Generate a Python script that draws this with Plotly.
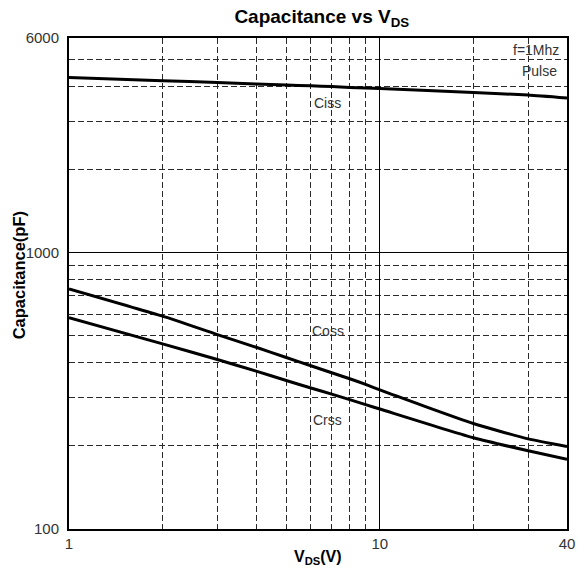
import plotly.graph_objects as go

# Data
vds = [1, 2, 3, 4, 5, 6, 7, 8, 9, 10, 20, 30, 40]
ciss = [4320, 4200, 4140, 4090, 4055, 4027, 4000, 3975, 3955, 3940, 3808, 3727, 3635]
coss = [741, 590, 506, 455, 418, 390, 368, 350, 334, 319, 241, 212, 199]
crss = [583, 468, 411, 373, 345, 324, 308, 294, 282, 272, 214, 192, 179]

x_ticks = [1, 10, 40]
x_tick_text = ["1", "10", "40"]
y_ticks = [100, 1000, 6000]
y_tick_text = ["100", "1000", "6000"]
x_minor = [2, 3, 4, 5, 6, 7, 8, 9, 20, 30]
y_minor = [200, 300, 400, 500, 600, 700, 800, 900, 2000, 3000, 4000, 5000]

font_main = "Liberation Sans, Arial, sans-serif"

fig = go.Figure()
for name, vals in [("Ciss", ciss), ("Coss", coss), ("Crss", crss)]:
    fig.add_trace(go.Scatter(x=vds, y=vals, mode="lines", name=name,
                             line=dict(color="black", width=3, shape="spline", smoothing=0.5),
                             showlegend=False))

grid_minor = dict(showgrid=True, gridcolor="#2a2a2a", gridwidth=1, griddash="6px,3px",
                  ticks="")

fig.update_xaxes(type="log", range=[0, 1.60206], tickmode="array",
                 tickvals=x_ticks, ticktext=x_tick_text,
                 showgrid=True, gridcolor="black", gridwidth=1,
                 showline=True, linecolor="black", linewidth=2, mirror=True,
                 ticks="", zeroline=False,
                 tickfont=dict(family=font_main, size=15, color="#333"),
                 minor=dict(tickmode="array", tickvals=x_minor, **grid_minor))
fig.update_yaxes(type="log", range=[2, 3.77815], tickmode="array",
                 tickvals=y_ticks, ticktext=y_tick_text,
                 showgrid=True, gridcolor="black", gridwidth=1,
                 showline=True, linecolor="black", linewidth=2, mirror=True,
                 ticks="", zeroline=False, ticklabelstandoff=5,
                 tickfont=dict(family=font_main, size=15, color="#333"),
                 minor=dict(tickmode="array", tickvals=y_minor, **grid_minor))

ann_font = dict(family=font_main, size=14, color="#333")
fig.add_annotation(x=0.832, y=3.5435, xref="x", yref="y", text="Ciss", showarrow=False,
                   font=ann_font, xanchor="center", yanchor="middle")
fig.add_annotation(x=0.832, y=2.7174, xref="x", yref="y", text="Coss", showarrow=False,
                   font=ann_font, xanchor="center", yanchor="middle")
fig.add_annotation(x=0.832, y=2.395, xref="x", yref="y", text="Crss", showarrow=False,
                   font=ann_font, xanchor="center", yanchor="middle")
fig.add_annotation(x=1.582, y=3.7355, xref="x", yref="y", text="f=1Mhz", showarrow=False,
                   font=ann_font, xanchor="right", yanchor="middle")
fig.add_annotation(x=1.576, y=3.6594, xref="x", yref="y", text="Pulse", showarrow=False,
                   font=ann_font, xanchor="right", yanchor="middle")

# Axis titles
fig.add_annotation(x=-0.101, y=0.516, xref="paper", yref="paper",
                   text="<b>Capacitance(pF)</b>", textangle=-90, showarrow=False,
                   font=dict(family=font_main, size=16.5, color="black"),
                   xanchor="center", yanchor="middle")
fig.add_annotation(x=0.5, y=-0.059, xref="paper", yref="paper",
                   text="<b>V<sub>DS</sub>(V)</b>", showarrow=False,
                   font=dict(family=font_main, size=16, color="black"),
                   xanchor="center", yanchor="middle")

fig.update_layout(
    width=584, height=578,
    margin=dict(l=69, r=9, t=38, b=49),
    paper_bgcolor="white", plot_bgcolor="white",
    title=dict(text="<b>Capacitance vs V<sub>DS</sub></b>", x=0.551, xanchor="center",
               y=0.972, yanchor="middle",
               font=dict(family=font_main, size=19, color="black")),
)

fig.write_html("out.html")
